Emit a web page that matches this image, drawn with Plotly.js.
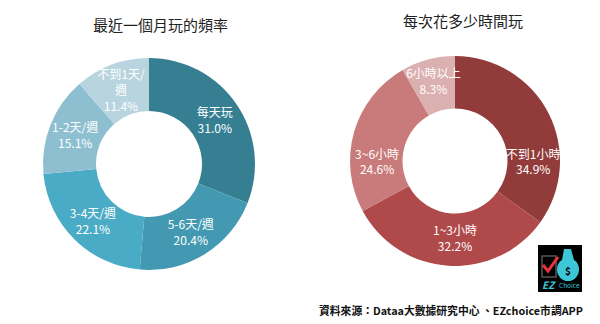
<!DOCTYPE html>
<html><head><meta charset="utf-8">
<script src="https://cdn.plot.ly/plotly-3.0.1.min.js"></script>
<style>html,body{margin:0;padding:0;background:#fff}#chart{width:600px;height:324px}</style>
</head><body><div id="chart"></div>
<script>
// Left donut: frequency in the last month
const freqLabels = ['每天玩', '5-6天/週', '3-4天/週', '1-2天/週', '不到1天/週'];
const freqText   = ['每天玩', '5-6天/週', '3-4天/週', '1-2天/週', '不到1天/<br>週'];
const freqValues = [31.0, 20.4, 22.1, 15.1, 11.4];
const freqColors = ['#367f93', '#4299b1', '#4aabc6', '#8dbfd1', '#b8d4de'];

// Right donut: time spent each session
const timeLabels = ['不到1小時', '1~3小時', '3~6小時', '6小時以上'];
const timeValues = [34.9, 32.2, 24.6, 8.3];
const timeColors = ['#923b3b', '#b04a4a', '#c97b7b', '#dbb0b0'];

const titleLeft = '最近一個月玩的頻率';
const titleRight = '每次花多少時間玩';
const sourceText = '資料來源：Dataa大數據研究中心 、EZchoice市調APP';

const FONT = '"Noto Sans CJK TC", "Noto Sans", sans-serif';
const W = 600, H = 324;
const px = x => x / W, py = y => 1 - y / H;

const common = {
  type: 'pie', hole: 0.5, sort: false, direction: 'clockwise', rotation: 0,
  textposition: 'inside', insidetextorientation: 'horizontal',
  textinfo: 'text', hoverinfo: 'label+percent',
  insidetextfont: {family: FONT, size: 12, color: '#ffffff'},
  marker: {line: {width: 0}},
  showlegend: false
};

const data = [
  Object.assign({}, common, {
    labels: freqLabels, values: freqValues,
    text: freqText.map((t, i) => t + '<br>' + freqValues[i].toFixed(1) + '%'),
    marker: {colors: freqColors, line: {width: 0}},
    domain: {x: [px(43), px(255)], y: [py(270), py(58)]}
  }),
  Object.assign({}, common, {
    labels: timeLabels, values: timeValues,
    text: timeLabels.map((t, i) => t + '<br>' + timeValues[i].toFixed(1) + '%'),
    marker: {colors: timeColors, line: {width: 0}},
    domain: {x: [px(350), px(560)], y: [py(266), py(56)]}
  })
];

function ann(text, x, y, font, extra) {
  return Object.assign({text: text, x: px(x), y: py(y), xref: 'paper', yref: 'paper',
    xanchor: 'center', yanchor: 'middle', showarrow: false, font: font}, extra || {});
}

const layout = {
  width: W, height: H,
  margin: {l: 0, r: 0, t: 0, b: 0},
  paper_bgcolor: '#ffffff',
  font: {family: FONT},
  uniformtext: {minsize: 12, mode: 'show'},
  annotations: [
    ann(titleLeft, 160, 24, {family: FONT, size: 15, color: '#222222'}),
    ann(titleRight, 463, 20, {family: FONT, size: 15, color: '#222222'}),
    ann(sourceText, 585, 310, {family: FONT, size: 10.8, color: '#111111', weight: 'bold'}, {xanchor: 'right'}),
    ann('<b><i>EZ</i></b>', 549, 284, {family: FONT, size: 10, color: '#3cc6d8'}),
    ann('Choice', 569, 285, {family: FONT, size: 6.5, color: '#3cc6d8'}),
    ann('<b>$</b>', 568, 270, {family: FONT, size: 10, color: '#000000'})
  ],
  shapes: [
    {type: 'rect', xref: 'paper', yref: 'paper', x0: px(538), x1: px(582), y0: py(292), y1: py(245),
     fillcolor: '#000000', line: {width: 0}},
    {type: 'rect', xref: 'paper', yref: 'paper', x0: px(542), x1: px(556), y0: py(277), y1: py(256),
     fillcolor: 'rgba(0,0,0,0)', line: {color: '#555555', width: 1.5}},
    {type: 'circle', xref: 'paper', yref: 'paper', x0: px(557), x1: px(579), y0: py(281), y1: py(258),
     fillcolor: '#3cc6d8', line: {width: 0}},
    {type: 'path', xref: 'paper', yref: 'paper',
     path: `M ${px(562)} ${py(260)} L ${px(574)} ${py(260)} L ${px(571)} ${py(249)} L ${px(564)} ${py(249)} Z`,
     fillcolor: '#3cc6d8', line: {width: 0}},
    {type: 'path', xref: 'paper', yref: 'paper',
     path: `M ${px(543)} ${py(265)} L ${px(548)} ${py(271)} L ${px(558)} ${py(257)}`,
     line: {color: '#e8363f', width: 3}}
  ]
};

Plotly.newPlot('chart', data, layout, {displayModeBar: false, staticPlot: true});
</script>
</body></html>
